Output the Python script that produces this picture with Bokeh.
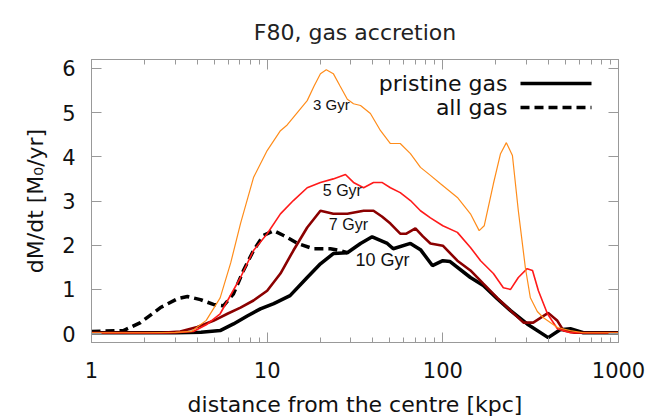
from bokeh.plotting import figure
from bokeh.models import Range1d, FixedTicker, LogAxis, LinearAxis, Label, Arrow, PrintfTickFormatter
from bokeh.embed import file_html
from bokeh.resources import INLINE

# ---------------- data ----------------
x_ticks = [1, 10, 100, 1000]
x_minor = [m * 10 ** k for k in range(3) for m in range(2, 10)]
y_ticks = [0, 1, 2, 3, 4, 5, 6]

r_3gyr = [1, 2, 3, 3.7, 4.5, 5.4, 6.2, 7.05, 8.36, 10, 11.9, 13, 14.1, 16.9, 18.5, 20.1, 21.7, 23.8,
          26, 28.6, 31, 34, 38.7, 44.2, 50.3, 57.2, 65.4, 74.6, 85, 97, 121, 143.6, 161, 172, 194,
          213, 230, 249, 269, 295, 315, 345, 374, 449, 532, 631, 1000]
m_3gyr = [0.02, 0.02, 0.03, 0.05, 0.3, 0.81, 1.6, 2.49, 3.53, 4.14, 4.59, 4.72, 4.89, 5.27, 5.6, 5.88,
          5.97, 5.88, 5.6, 5.3, 5.2, 5.16, 4.98, 4.59, 4.3, 4.3, 4.07, 3.76, 3.58, 3.39, 3.08, 2.71,
          2.33, 2.44, 3.39, 4.07, 4.32, 4.03, 2.78, 1.49, 0.81, 0.5, 0.36, 0.14, 0.07, 0.02, 0.02]

r_5gyr = [1, 3, 3.8, 4.5, 5.4, 7.05, 8.36, 10, 11.9, 14.1, 16.9, 20.1, 23.8, 27.9, 31, 35.4, 40.3,
          45, 50.3, 57.2, 65.4, 74.6, 85, 100, 121, 143.6, 164, 194, 221, 243, 269, 302, 324, 350,
          394, 449, 532, 1000]
m_5gyr = [0.02, 0.02, 0.05, 0.2, 0.45, 1.27, 1.88, 2.26, 2.71, 3.01, 3.3, 3.42, 3.5, 3.6, 3.42, 3.3,
          3.42, 3.42, 3.3, 3.19, 3.01, 2.78, 2.62, 2.44, 2.29, 1.95, 1.65, 1.36, 1.04, 1.0, 1.27,
          1.47, 1.43, 0.97, 0.45, 0.11, 0.02, 0.02]

r_7gyr = [1, 2.5, 3.2, 4.0, 4.94, 5.94, 7.05, 8.36, 10, 11.9, 14.1, 16.9, 20.1, 23.8, 28.6, 35.4,
          40.3, 45, 50.3, 57.2, 62, 69.8, 77, 85, 100, 121, 143.6, 170, 204, 243, 288, 327, 398,
          449, 486, 560, 1000]
m_7gyr = [0.02, 0.02, 0.05, 0.15, 0.29, 0.45, 0.59, 0.75, 0.97, 1.36, 1.88, 2.4, 2.78, 2.71, 2.71,
          2.78, 2.78, 2.65, 2.49, 2.26, 2.26, 2.38, 2.2, 2.04, 1.99, 1.65, 1.43, 1.13, 0.81, 0.52,
          0.25, 0.25, 0.47, 0.29, 0.07, 0.02, 0.02]

r_10gyr = [1, 3, 4.2, 5.4, 6.43, 7.7, 9.15, 10.9, 13.5, 16.9, 20.1, 23.8, 28.6, 34, 39.6, 48.3,
           52.2, 65.4, 74.6, 87.2, 100, 110, 143.6, 170, 204, 243, 302, 398, 465, 532, 631, 1000]
m_10gyr = [0.02, 0.02, 0.03, 0.07, 0.22, 0.4, 0.56, 0.68, 0.86, 1.27, 1.58, 1.81, 1.83, 2.04, 2.19,
           2.04, 1.92, 2.04, 1.9, 1.54, 1.65, 1.63, 1.27, 1.09, 0.79, 0.52, 0.22, -0.09, 0.09, 0.11,
           0.02, 0.02]

r_all = [1, 1.52, 1.9, 2.47, 3.09, 3.52, 4.17, 4.94, 5.64, 6.43, 7.33, 8.36, 9.53, 10.9, 12.4, 14.9,
         18.3, 22.9, 26, 28.6]
m_all = [0.05, 0.07, 0.25, 0.59, 0.79, 0.84, 0.77, 0.66, 0.63, 0.9, 1.43, 1.88, 2.22, 2.33, 2.22,
         2.04, 1.92, 1.92, 1.88, 1.83]

label_text = ["3 Gyr", "5 Gyr", "7 Gyr", "10 Gyr"]
label_r = [23.2, 26.8, 29.0, 45.3]
label_m = [5.18, 3.24, 2.47, 1.67]

legend_text = ["pristine gas", "all gas"]

# ---------------- styles ----------------
GRAY = "#999999"
TXT = "DejaVu Sans"
label_sizes = ["15px", "16px", "16px", "18px"]

p = figure(width=651, height=416, frame_width=527, frame_height=283, x_axis_type="log",
           x_range=Range1d(1, 1000), y_range=Range1d(-0.2, 6.2),
           output_backend="svg", toolbar_location=None,
           min_border_left=91, min_border_right=33, min_border_top=59, min_border_bottom=74)

p.title.text = "F80, gas accretion"
p.title.align = "center"
p.title.text_font = TXT
p.title.text_font_size = "22px"
p.title.text_font_style = "normal"
p.title.text_color = "#222222"
p.title.standoff = 30

p.xgrid.grid_line_color = None
p.ygrid.grid_line_color = None
p.outline_line_color = GRAY
p.background_fill_color = "white"
p.border_fill_color = "white"

xt = FixedTicker(ticks=x_ticks, minor_ticks=x_minor)
yt = FixedTicker(ticks=y_ticks, minor_ticks=[])

def style_axis(ax, labels=True):
    ax.major_tick_in = 10
    ax.major_tick_out = 0
    ax.minor_tick_in = 5
    ax.minor_tick_out = 0
    ax.axis_line_color = GRAY
    ax.major_tick_line_color = GRAY
    ax.minor_tick_line_color = GRAY
    ax.major_label_text_font = TXT
    if labels:
        ax.major_label_text_font_size = "21px"
        ax.major_label_text_color = "#111111"
    else:
        ax.major_label_text_font_size = "1px"
        ax.major_label_text_color = None
    ax.axis_label_text_font = TXT
    ax.axis_label_text_font_size = "22px"
    ax.axis_label_text_font_style = "normal"
    ax.axis_label_text_color = "#111111"

xa = p.xaxis[0]
xa.ticker = xt
xa.formatter = PrintfTickFormatter(format="%d")
style_axis(xa)
xa.major_label_standoff = 19
xa.axis_label = "distance from the centre [kpc]"
xa.axis_label_standoff = 11
xa.axis_label_text_line_height = 0.7

ya = p.yaxis[0]
ya.ticker = yt
style_axis(ya)
ya.minor_tick_line_color = None
ya.major_label_standoff = 16
ya.axis_label = "dM/dt [M\u2080/yr]"
ya.axis_label_standoff = 11

top = LogAxis(ticker=xt)
style_axis(top, labels=False)
top.major_label_standoff = 0
p.add_layout(top, "above")

right = LinearAxis(ticker=yt)
style_axis(right, labels=False)
right.minor_tick_line_color = None
right.major_label_standoff = 0
p.add_layout(right, "right")

# ---------------- curves ----------------
p.line(r_all, m_all, line_color="black", line_width=3.5, line_dash="9 5")
p.line(r_10gyr, m_10gyr, line_color="black", line_width=3.5)
p.line(r_7gyr, m_7gyr, line_color="#8b0000", line_width=2.6)
p.line(r_5gyr, m_5gyr, line_color="#ff1a1a", line_width=1.6)
p.line(r_3gyr, m_3gyr, line_color="#ff8c1a", line_width=1.2)

for t, lx, ly, fs in zip(label_text, label_r, label_m, label_sizes):
    p.add_layout(Label(x=lx, y=ly, text=t, text_font="Liberation Sans", text_font_size=fs,
                       text_align="center", text_baseline="middle", text_color="#111111"))

# ---------------- legend (manual, gnuplot style; screen units are frame-relative) ----------------
leg_y = [259, 235]
leg_dash = ["solid", "9 5"]
for t, ly, dash in zip(legend_text, leg_y, leg_dash):
    p.add_layout(Label(x=416, y=ly, x_units="screen", y_units="screen", text=t,
                       text_font=TXT, text_font_size="22px", text_align="right",
                       text_baseline="middle", text_color="#111111"))
    p.add_layout(Arrow(end=None, x_start=429, x_end=500, y_start=ly, y_end=ly,
                       start_units="screen", end_units="screen", line_color="black",
                       line_width=3.5, line_dash=dash))

open("out.html", "w").write(file_html(p, INLINE))
